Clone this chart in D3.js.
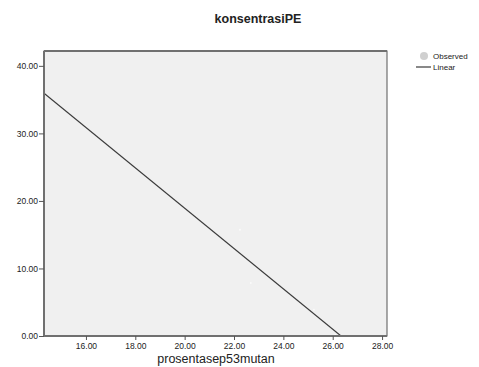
<!DOCTYPE html>
<html>
<head>
<meta charset="utf-8">
<script src="https://cdn.jsdelivr.net/npm/d3@7"></script>
<style>
  body { margin: 0; background: #fff; }
  svg text { font-family: Arial, "Liberation Sans", sans-serif; }
</style>
</head>
<body>
<div class="chart"></div>
<script>
// observed points (barely visible in the original, drawn white)
var obsX = [22.24, 22.68, 25.24, 26.1];
var obsY = [15.75, 7.85, 3.9, 0.2];

// linear fit: y = b0 + b1 * x
var fitB0 = 78.67;
var fitB1 = -2.987;

var xTicks = [16, 18, 20, 22, 24, 26, 28];
var yTicks = [0, 10, 20, 30, 40];

var width = 479, height = 367;
var margin = { top: 51, right: 92, bottom: 31, left: 44 },
    w = width - margin.left - margin.right,
    h = height - margin.top - margin.bottom;

var svg = d3.select(".chart").append("svg")
    .attr("width", width)
    .attr("height", height);

var x = d3.scaleLinear().domain([14.3, 28.2]).range([0, w]);
var y = d3.scaleLinear().domain([0, 42.2]).range([h, 0]);

var g = svg.append("g")
    .attr("transform", "translate(" + margin.left + "," + margin.top + ")");

g.append("rect")
    .attr("width", w)
    .attr("height", h)
    .attr("fill", "#f0f0f0")
    .attr("stroke", "#555")
    .attr("stroke-width", 1);

svg.append("defs").append("clipPath").attr("id", "clip")
    .append("rect").attr("width", w).attr("height", h);

var plot = g.append("g").attr("clip-path", "url(#clip)");

plot.selectAll(".obs")
    .data(obsX)
    .enter().append("circle")
    .attr("class", "obs")
    .attr("cx", function (d) { return x(d); })
    .attr("cy", function (d, i) { return y(obsY[i]); })
    .attr("r", 1)
    .attr("fill", "#fafafa");

var xd = x.domain();
plot.append("line")
    .attr("x1", x(xd[0]))
    .attr("y1", y(fitB0 + fitB1 * xd[0]))
    .attr("x2", x(xd[1]))
    .attr("y2", y(fitB0 + fitB1 * xd[1]))
    .attr("stroke", "#3a3a3a")
    .attr("stroke-width", 1.2);

// axes
var xAxis = g.append("g")
    .attr("transform", "translate(0," + h + ")")
    .call(d3.axisBottom(x).tickValues(xTicks).tickFormat(d3.format(".2f")).tickSize(4).tickPadding(3));
var yAxis = g.append("g")
    .call(d3.axisLeft(y).tickValues(yTicks).tickFormat(d3.format(".2f")).tickSize(5).tickPadding(1));

[xAxis, yAxis].forEach(function (a) {
    a.select(".domain").attr("stroke", "#707070").attr("stroke-width", 2);
    a.selectAll(".tick line").attr("stroke", "#555");
    a.selectAll(".tick text").attr("fill", "#222").style("font-size", "8.5px");
});
xAxis.select(".domain").attr("d", "M0,0H" + w);
yAxis.select(".domain").attr("d", "M0," + h + "V0");
g.append("line").attr("x1", 0).attr("x2", w).attr("y1", 0).attr("y2", 0)
    .attr("stroke", "#707070").attr("stroke-width", 2);

// title & axis label
svg.append("text")
    .attr("x", 258).attr("y", 23)
    .attr("text-anchor", "middle")
    .style("font-size", "12.5px").style("font-weight", "bold")
    .attr("fill", "#222")
    .text("konsentrasiPE");

svg.append("text")
    .attr("x", 216).attr("y", 363)
    .attr("text-anchor", "middle")
    .style("font-size", "12.5px")
    .attr("fill", "#222")
    .text("prosentasep53mutan");

// legend
var legend = svg.append("g").attr("transform", "translate(416,56)");
legend.append("circle").attr("cx", 8).attr("cy", 0).attr("r", 4).attr("fill", "#d0d0d0");
legend.append("text").attr("x", 17).attr("y", 3).style("font-size", "8px").attr("fill", "#222").text("Observed");
legend.append("line").attr("x1", 0).attr("x2", 15).attr("y1", 11).attr("y2", 11)
    .attr("stroke", "#3a3a3a").attr("stroke-width", 1.2);
legend.append("text").attr("x", 17).attr("y", 14).style("font-size", "8px").attr("fill", "#222").text("Linear");
</script>
</body>
</html>
